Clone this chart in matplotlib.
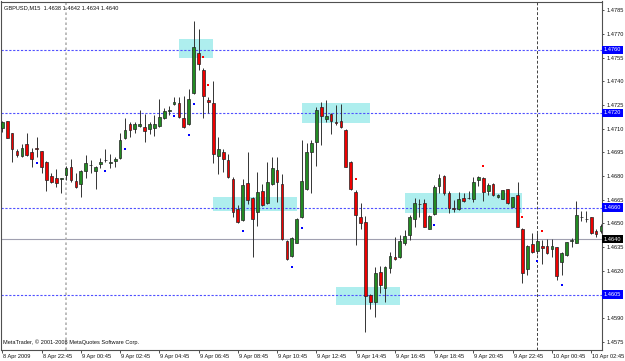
import numpy as np
import matplotlib.pyplot as plt
from matplotlib.patches import Rectangle
from matplotlib.transforms import blended_transform_factory, ScaledTranslation

plt.rcParams['font.family'] = ['Liberation Sans', 'DejaVu Sans']

# GBPUSD M15, values in pips above 1.4600
open_pips = [110.7, 114.9, 107.1, 95.9, 93.0, 100.1, 95.1, 97.8, 95.9, 88.9,
             80.1, 78.6, 78.4, 80.7, 86.0, 76.9, 74.8, 83.3, 87.1, 83.3,
             87.7, 90.0, 88.1, 89.8, 91.7, 103.9, 113.0, 109.6, 111.7, 111.1,
             109.6, 110.5, 111.7, 116.8, 121.4, 125.7, 126.1, 116.6, 113.0, 132.8,
             158.2, 147.2, 128.2, 126.1, 93.0, 95.1, 90.0, 78.2, 59.0, 52.2,
             75.9, 66.0, 57.5, 70.8, 62.8, 74.8, 83.7, 74.8, 38.9, 29.7,
             37.9, 53.9, 71.7, 95.5, 101.8, 123.6, 116.0, 119.1, 114.1, 114.7,
             109.2, 88.9, 70.0, 53.9, 50.8, 4.5, 0.5, 19.5, 9.0, 22.1,
             29.0, 29.0, 37.9, 42.7, 52.7, 62.2, 62.8, 46.8, 55.8, 74.0,
             80.1, 69.5, 59.6, 59.0, 66.4, 66.2, 65.7, 77.6, 78.6, 70.6,
             74.8, 66.6, 65.7, 71.7, 60.7, 67.9, 46.8, 21.0, 36.8, 32.8,
             36.0, 35.8, 33.7, 34.9, 25.9, 30.1, 39.2, 37.9, 54.1, 52.7,
             53.9, 45.3, 45.3, 38.0]
high_pips = [115.1, 115.1, 107.5, 97.2, 100.3, 107.1, 97.6, 105.0, 96.1, 89.4,
             81.8, 84.3, 78.6, 86.4, 90.6, 81.8, 83.9, 93.2, 90.2, 86.4,
             91.3, 97.0, 93.8, 92.3, 107.1, 116.6, 114.5, 114.5, 121.9, 119.3,
             114.5, 118.7, 128.8, 122.9, 124.6, 129.9, 130.3, 130.7, 135.0, 178.2,
             172.9, 148.2, 129.9, 140.2, 105.0, 97.0, 94.0, 79.7, 61.7, 78.0,
             95.1, 67.0, 82.8, 75.0, 88.7, 91.9, 91.9, 81.4, 39.6, 41.3,
             53.3, 102.9, 100.8, 102.9, 123.6, 127.1, 128.2, 120.2, 125.0, 125.7,
             109.6, 89.4, 71.2, 62.8, 55.0, 5.4, 22.7, 23.1, 23.1, 32.2,
             41.3, 42.7, 45.9, 55.4, 66.0, 65.3, 65.3, 55.4, 74.2, 81.4,
             80.5, 70.6, 64.9, 70.0, 69.5, 70.8, 79.7, 80.3, 79.3, 75.9,
             75.9, 68.5, 71.5, 72.1, 67.0, 76.5, 47.2, 36.2, 43.8, 43.8,
             39.6, 40.0, 40.0, 35.4, 31.8, 38.5, 40.6, 64.3, 58.2, 58.2,
             54.4, 46.3, 49.7, 42.0]
low_pips = [108.2, 103.9, 88.7, 92.3, 92.3, 93.0, 85.6, 92.3, 81.8, 70.8,
            75.5, 73.3, 69.1, 77.6, 76.5, 72.3, 66.6, 78.6, 81.8, 71.7,
            85.4, 89.2, 85.0, 86.0, 90.6, 103.3, 104.6, 107.1, 111.3, 101.8,
            106.7, 105.4, 110.9, 116.4, 118.7, 125.0, 116.6, 110.5, 112.6, 132.0,
            147.2, 116.6, 119.8, 88.1, 81.1, 82.8, 78.6, 53.9, 50.6, 51.8,
            62.4, 28.6, 48.4, 61.1, 62.4, 74.4, 63.9, 39.6, 26.9, 29.0,
            37.5, 53.3, 71.2, 69.5, 86.6, 99.7, 114.5, 106.7, 112.4, 110.3,
            85.6, 71.2, 36.4, 46.8, -18.4, -4.3, -9.0, 5.8, 0.5, 18.9,
            26.9, 28.0, 36.4, 39.6, 48.0, 53.9, 47.6, 46.3, 55.4, 69.5,
            68.1, 56.5, 57.3, 58.6, 63.9, 65.3, 63.9, 74.0, 64.5, 68.1,
            67.4, 66.2, 65.3, 62.4, 60.3, 47.6, 12.6, 17.4, 31.1, 30.7,
            24.4, 30.7, 28.6, 14.3, 17.4, 29.5, 35.4, 37.5, 51.8, 50.8,
            43.4, 41.7, 43.8, 34.0]
close_pips = [114.1, 104.1, 96.9, 93.4, 97.6, 93.6, 90.6, 96.9, 85.6, 77.6,
              76.3, 75.9, 78.4, 84.9, 77.6, 72.9, 83.0, 88.1, 86.8, 85.6,
              88.9, 90.2, 88.9, 90.6, 102.9, 109.2, 109.2, 113.0, 112.8, 108.8,
              113.0, 113.0, 117.7, 121.0, 121.9, 126.7, 117.7, 111.3, 128.6, 162.0,
              150.8, 130.7, 126.7, 93.8, 97.0, 90.6, 79.7, 57.1, 50.8, 74.2,
              64.9, 52.7, 69.8, 61.9, 76.5, 85.0, 76.5, 40.0, 27.5, 40.6,
              52.9, 76.9, 95.1, 100.8, 121.9, 118.1, 118.1, 115.1, 113.9, 110.9,
              86.0, 71.9, 55.4, 50.1, 4.1, 0.1, 18.9, 11.1, 22.7, 29.5,
              27.8, 38.7, 42.1, 54.4, 63.2, 62.6, 48.0, 54.8, 72.9, 78.6,
              69.1, 59.6, 59.2, 65.7, 64.3, 66.3, 76.1, 79.7, 69.8, 74.2,
              67.9, 68.1, 71.0, 62.8, 66.6, 48.0, 18.9, 35.8, 31.8, 38.9,
              34.7, 31.6, 36.0, 16.8, 31.1, 38.1, 39.4, 55.2, 53.9, 52.7,
              43.8, 43.2, 48.4, 40.0]

opens = 1.46 + np.array(open_pips) / 1e4
highs = 1.46 + np.array(high_pips) / 1e4
lows = 1.46 + np.array(low_pips) / 1e4
closes = 1.46 + np.array(close_pips) / 1e4

# fractal-like dots: (bar, pips)
blue_dots = [(7, 88.5), (21, 83.4), (25, 97.2), (35, 118.3), (38, 106.2), (39, 125.5),
             (49, 45.5), (59, 22.3), (61, 47.2), (88, 49.1), (109, 26.5), (114, 11.1)]
red_dots = [(41, 155.2), (42, 137.5), (72, 78.2), (98, 86.2), (106, 54.1), (110, 45.5)]

# zones: (first bar, last bar, low price, high price)
zones = [(36, 43, 1.4755, 1.4767), (61, 75, 1.47134, 1.47263), (43, 60, 1.46581, 1.4667),
         (68, 81, 1.45984, 1.4610), (82, 106, 1.46565, 1.46691)]

levels = [1.4760, 1.4720, 1.4660, 1.4605]
bid = 1.4640
day_breaks = [13, 109]

tick_bars = [0, 8, 16, 24, 32, 40, 48, 56, 64, 72, 80, 88, 96, 104, 112, 120]
tick_names = ['8 Apr 2009', '8 Apr 22:45', '9 Apr 00:45', '9 Apr 02:45', '9 Apr 04:45',
              '9 Apr 06:45', '9 Apr 08:45', '9 Apr 10:45', '9 Apr 12:45', '9 Apr 14:45',
              '9 Apr 16:45', '9 Apr 18:45', '9 Apr 20:45', '9 Apr 22:45', '10 Apr 00:45',
              '10 Apr 02:45']

W, H = 625, 361
fig = plt.figure(figsize=(W / 100, H / 100), dpi=100)
ax = fig.add_axes([1.5 / W, (H - 350) / H, 600.5 / W, 348.5 / H])
ax.set_xlim(-0.16, 122.2)
ax.set_ylim(1.45699, 1.479055)

fs = 4.1
txtc = '#111111'

for x0, x1, y0, y1 in zones:
    ax.add_patch(Rectangle((x0, y0), x1 - x0, y1 - y0, facecolor='#aeeeee',
                           edgecolor='none', zorder=1))

for lv in levels:
    ax.axhline(lv, color='#5050ff', lw=0.8, ls=(0, (2, 1.5)), zorder=2)
ax.axhline(bid, color='#a0a0b0', lw=0.8, zorder=2)
ax.axvline(day_breaks[0], color='#b0b0b0', lw=1.2, ls=(0, (1.5, 1.5)), zorder=2)
ax.axvline(day_breaks[1], color='#404040', lw=0.7, ls=(0, (3, 2)), zorder=2)

n = len(opens)
idx = np.arange(n)
ax.vlines(idx, lows, highs, color='#333333', lw=0.7, zorder=3)
for i in range(n):
    o, c = opens[i], closes[i]
    col = '#228b22' if c >= o else '#ee0000'
    ax.add_patch(Rectangle((i - 0.28, min(o, c)), 0.56, max(abs(c - o), 0.00002),
                           facecolor=col, edgecolor='#222222', lw=0.5, zorder=4))

bx, by = zip(*blue_dots)
ax.plot(bx, 1.46 + np.array(by) / 1e4, 's', color='#0000ff', ms=1.6, mew=0, zorder=5)
rx, ry = zip(*red_dots)
ax.plot(rx, 1.46 + np.array(ry) / 1e4, 's', color='#ff0000', ms=1.6, mew=0, zorder=5)

for s in ax.spines.values():
    s.set_color('#505050')
    s.set_linewidth(0.8)

ax.yaxis.tick_right()
yt = np.arange(1.4575, 1.4786, 0.0015)
ax.set_yticks(yt)
# tick labels hidden behind a level marker are left blank
ylabs = ['' if any(abs(v - lv) < 1e-6 for lv in levels) else '%.4f' % v for v in yt]
ax.set_yticklabels(ylabs, fontsize=fs, color=txtc)
ax.tick_params(axis='y', length=1.5, width=0.6, pad=1.5, colors='#333333')

ax.set_xticks(tick_bars)
ax.set_xticklabels(tick_names, fontsize=fs, color=txtc, ha='left')
ax.tick_params(axis='x', length=2.0, width=0.6, pad=1.0, colors='#333333')
off = ScaledTranslation(1 / 100, 0, fig.dpi_scale_trans)
for lab in ax.get_xticklabels():
    lab.set_transform(lab.get_transform() + off)
    lab.set_color(txtc)
for lab in ax.get_yticklabels():
    lab.set_color(txtc)

tr = blended_transform_factory(ax.transAxes, ax.transData)
for lv in levels:
    ax.text(1.003, lv, '%.4f' % lv, transform=tr, fontsize=fs, color='white', va='center',
            ha='left', clip_on=False, zorder=10,
            bbox=dict(boxstyle='square,pad=0.3', facecolor='#0000ff', edgecolor='none'))
ax.text(1.003, bid, '%.4f' % bid, transform=tr, fontsize=fs, color='white', va='center',
        ha='left', clip_on=False, zorder=10,
        bbox=dict(boxstyle='square,pad=0.3', facecolor='#000000', edgecolor='none'))

ax.text(0.004, 0.99, 'GBPUSD,M15  1.4638 1.4642 1.4634 1.4640', transform=ax.transAxes,
        fontsize=fs, color=txtc, va='top', ha='left')
ax.text(0.003, 0.014, 'MetaTrader, \u00a9 2001-2008 MetaQuotes Software Corp.', transform=ax.transAxes,
        fontsize=fs, color=txtc, va='bottom', ha='left')

fig.savefig('out.png', dpi=100)
